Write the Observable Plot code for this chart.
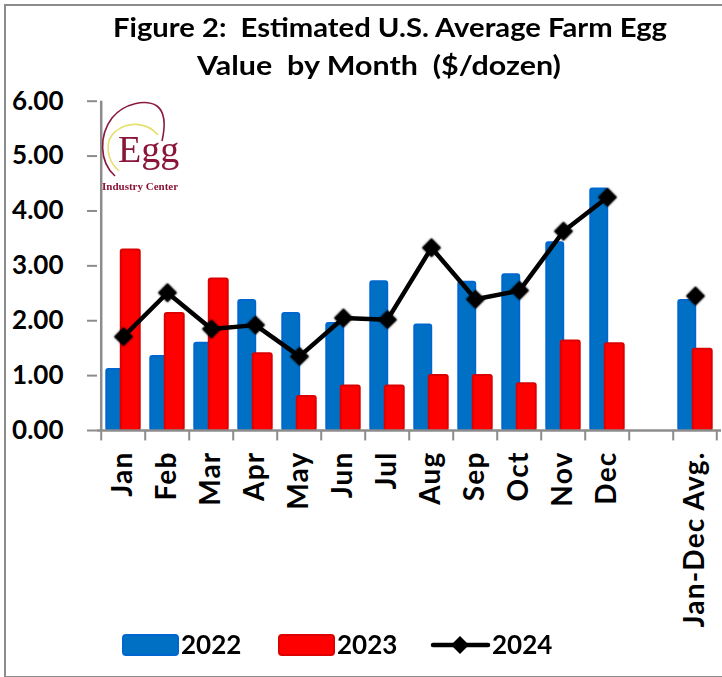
<!DOCTYPE html>
<html>
<head>
<meta charset="utf-8">
<script src="https://cdn.jsdelivr.net/npm/d3@7"></script>
<script src="https://cdn.jsdelivr.net/npm/@observablehq/plot@0.6"></script>
<style>
  html, body { margin: 0; padding: 0; background: #fff; }
  #wrap { position: relative; width: 722px; height: 677px; overflow: hidden; background: #fff; }
  #border { position: absolute; left: 4px; top: 4px; width: 740px; height: 670px; border: 2px solid #8c8c8c; }
  #chart { position: absolute; left: 0; top: 0; }
  #over { position: absolute; left: 0; top: 0; }
  #chart g[aria-label="dot"] { filter: drop-shadow(0 0 1.2px rgba(0,0,0,0.75)); }
  #chart g[aria-label="x-axis tick label"] text { letter-spacing: 1.2px; }
</style>
</head>
<body>
<div id="wrap">
  <div id="border"></div>
  <div id="chart"></div>
  <svg id="over" width="722" height="677" xmlns="http://www.w3.org/2000/svg"></svg>
</div>
<script>
// ---- data ----
const months = ["Jan","Feb","Mar","Apr","May","Jun","Jul","Aug","Sep","Oct","Nov","Dec"];
const avgLabel = "Jan-Dec Avg.";
const categories = [...months, " ", avgLabel];
const barCats = [...months, avgLabel];
const v2022 = [1.11, 1.35, 1.59, 2.37, 2.13, 1.95, 2.71, 1.92, 2.70, 2.84, 3.42, 4.40, 2.37];
const v2023 = [3.29, 2.13, 2.76, 1.40, 0.62, 0.81, 0.81, 1.00, 1.00, 0.85, 1.63, 1.58, 1.48];
const v2024 = [1.71, 2.51, 1.85, 1.92, 1.35, 2.05, 2.02, 3.33, 2.39, 2.55, 3.63, 4.25, 2.45];
const yTicks = [0, 1, 2, 3, 4, 5, 6];
const seriesNames = ["2022", "2023", "2024"];
const titleLines = ["Figure 2:  Estimated U.S. Average Farm Egg", "Value  by Month  ($/dozen)"];

const rows = barCats.map((c, i) => ({cat: c, v22: v2022[i], v23: v2023[i], v24: v2024[i]}));
const monthRows = rows.slice(0, 12);

const blueFill = "#0070C4", blueStroke = "#0066D0";
const redFill = "#FF0000", redStroke = "#DD0000";
const axisGray = "#8c8c8c";

const left = 97, right = 721;
const bw = (right - left) / categories.length;
const half = bw / 2;

const chart = Plot.plot({
  width: 722,
  height: 625,
  marginTop: 100.7,
  marginBottom: 195,
  marginLeft: left,
  marginRight: 722 - right,
  x: {domain: categories, padding: 0, axis: null, label: null},
  y: {domain: [0, 6], axis: null, label: null},
  style: {fontFamily: "Lato", fontWeight: "bold", background: "transparent", color: "black", overflow: "visible"},
  marks: [
    Plot.barY(rows, {x: "cat", y: "v22", fill: blueFill, stroke: blueStroke, strokeWidth: 2,
      insetLeft: half - 17, insetRight: half - 0.5, rx: 2}),
    Plot.barY(rows, {x: "cat", y: "v23", fill: redFill, stroke: redStroke, strokeWidth: 2,
      insetLeft: half - 2.5, insetRight: half - 17, rx: 2}),
    Plot.ruleY([0], {stroke: axisGray, strokeWidth: 2.5}),
    Plot.ruleX([categories[0]], {x: d => d, y1: 0, y2: 6, dx: -half, stroke: axisGray, strokeWidth: 2.5}),
    Plot.ruleX(categories, {x: d => d, y1: 0, y2: -0.19, dx: -half, stroke: axisGray, strokeWidth: 2}),
    Plot.ruleX([categories[categories.length - 1]], {x: d => d, y1: 0, y2: -0.19, dx: half - 1, stroke: axisGray, strokeWidth: 2}),
    Plot.axisY({ticks: yTicks, tickFormat: d => d.toFixed(2), tickSize: 10, tickPadding: 24,
      fontSize: 26, stroke: axisGray, strokeWidth: 2, fill: "black", label: null}),
    Plot.axisX({tickSize: 0, tickPadding: 21, tickRotate: -90, fontSize: 28, fill: "black", label: null}),
    Plot.line(monthRows, {x: "cat", y: "v24", stroke: "black", strokeWidth: 4.5}),
    Plot.dot(rows, {x: "cat", y: "v24", symbol: "diamond2", r: 8.5, fill: "black", stroke: "none"})
  ]
});
document.getElementById("chart").appendChild(chart);

// ---- overlay: title, logo, legend ----
const ns = "http://www.w3.org/2000/svg";
const over = document.getElementById("over");
function el(tag, attrs, text) {
  const e = document.createElementNS(ns, tag);
  for (const k in attrs) e.setAttribute(k, attrs[k]);
  if (text != null) e.textContent = text;
  over.appendChild(e);
  return e;
}
const titleStyle = "font-family:Lato;font-weight:bold;font-size:26px;white-space:pre";
el("text", {x: 113, y: 37, textLength: 554, lengthAdjust: "spacingAndGlyphs", style: titleStyle}, titleLines[0]);
el("text", {x: 197, y: 75, textLength: 364, lengthAdjust: "spacingAndGlyphs", style: titleStyle}, titleLines[1]);

// logo
el("path", {d: "M115,176 C99,162 99,135 112,118 C124,103 146,99 157,106 C166,113 165,128 162,141", fill: "none", stroke: "#8B1A3A", "stroke-width": 1.6});
el("path", {d: "M119,171 C106,160 104,140 116,131 C127,122 146,121 158,135", fill: "none", stroke: "#E6E070", "stroke-width": 1.6});
el("text", {x: 118, y: 162, style: "font-family:'Liberation Serif';font-size:38px;fill:#8B1538"}, "Egg");
el("text", {x: 102, y: 190, style: "font-family:'Liberation Serif';font-size:11px;font-weight:bold;fill:#8B1538"}, "Industry Center");

// legend
const legStyle = "font-family:Lato;font-weight:bold;font-size:26px";
el("rect", {x: 123, y: 635, width: 55, height: 20, rx: 3, fill: blueFill, stroke: blueStroke, "stroke-width": 2});
el("text", {x: 181, y: 654, style: legStyle}, seriesNames[0]);
el("rect", {x: 279, y: 635, width: 55, height: 20, rx: 3, fill: redFill, stroke: redStroke, "stroke-width": 2});
el("text", {x: 337, y: 654, style: legStyle}, seriesNames[1]);
el("line", {x1: 433, x2: 488, y1: 645, y2: 645, stroke: "black", "stroke-width": 4.5, "stroke-linecap": "round"});
el("path", {d: "M460,636 L469,645 L460,654 L451,645 Z", fill: "black"});
el("text", {x: 492, y: 654, style: legStyle}, seriesNames[2]);
</script>
</body>
</html>
